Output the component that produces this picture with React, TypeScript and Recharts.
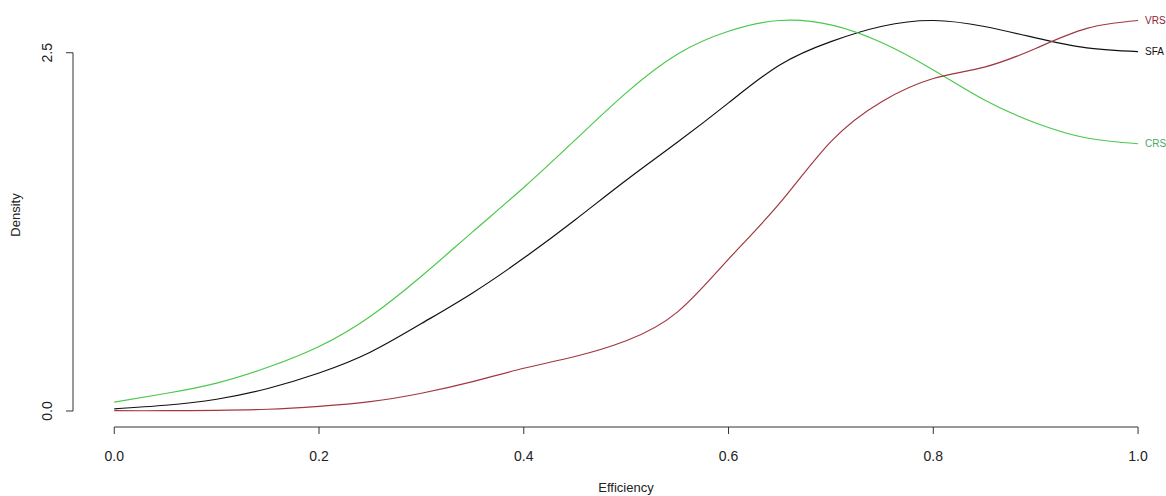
import { Label, Line, LineChart, ReferenceLine, XAxis, YAxis } from 'recharts'

const efficiency = [0, 0.05, 0.1, 0.15, 0.2, 0.25, 0.3, 0.35, 0.4, 0.45, 0.5, 0.55, 0.6, 0.65, 0.7, 0.75, 0.8, 0.85, 0.9, 0.95, 1]
const crs = [0.062, 0.122, 0.195, 0.305, 0.45, 0.66, 0.94, 1.25, 1.56, 1.89, 2.22, 2.49, 2.65, 2.725, 2.695, 2.57, 2.38, 2.17, 2.01, 1.905, 1.865]
const sfa = [0.015, 0.04, 0.082, 0.157, 0.265, 0.41, 0.61, 0.824, 1.067, 1.333, 1.61, 1.875, 2.15, 2.415, 2.578, 2.685, 2.725, 2.683, 2.604, 2.534, 2.508]
const vrs = [0.002, 0.002, 0.005, 0.012, 0.032, 0.065, 0.124, 0.205, 0.298, 0.38, 0.49, 0.69, 1.06, 1.45, 1.88, 2.16, 2.32, 2.4, 2.53, 2.67, 2.725]

const xTicks = [0, 0.2, 0.4, 0.6, 0.8, 1]
const yTicks = [0, 2.5]

const series = [
  { key: 'SFA', color: '#111111', labelColor: '#111111' },
  { key: 'CRS', color: '#4cc84c', labelColor: '#4aa860' },
  { key: 'VRS', color: '#a0383f', labelColor: '#8b2332' },
]

const data = efficiency.map((x, i) => ({ x, CRS: crs[i], SFA: sfa[i], VRS: vrs[i] }))

const font = '"Liberation Sans", Arial, sans-serif'

const endLabel = (name: string, color: string) => (props: any) => {
  if (props.index !== data.length - 1) return null
  return (
    <text
      x={props.x + 7}
      y={props.y}
      dy="0.35em"
      fontSize={10}
      fontFamily={font}
      fill={color}
    >
      {name}
    </text>
  )
}

const YTick = (props: any) => {
  const { x, y, payload } = props
  return (
    <text
      transform={`translate(${x},${y}) rotate(-90)`}
      textAnchor="middle"
      fontSize={14}
      fontFamily={font}
      fill="#222"
    >
      {payload.value.toFixed(1)}
    </text>
  )
}

export default function App() {
  return (
    <div style={{ position: 'absolute', left: 0, top: 0, background: '#fff' }}>
      <LineChart
        width={1166}
        height={496}
        data={data}
        margin={{ top: 5, right: 0, bottom: 0, left: 0 }}
      >
        <XAxis
          dataKey="x"
          type="number"
          domain={[-0.0403, 1.0273]}
          allowDataOverflow
          ticks={xTicks}
          tickFormatter={(v: number) => v.toFixed(1)}
          axisLine={false}
          tickLine={{ stroke: '#333' }}
          tickSize={7}
          tickMargin={17}
          height={69}
          tick={{ fontSize: 14, fontFamily: font, fill: '#222' }}
        >
          <Label
            content={() => (
              <text x={626} y={492} textAnchor="middle" fontSize={13} fontFamily={font} fill="#222">
                Efficiency
              </text>
            )}
          />
        </XAxis>
        <YAxis
          type="number"
          domain={[-0.1117, 2.8332]}
          allowDataOverflow
          ticks={yTicks}
          axisLine={false}
          tickLine={{ stroke: '#333' }}
          tickSize={7}
          tickMargin={14}
          width={73}
          tick={<YTick />}
        >
          <Label
            content={() => (
              <text
                transform="translate(20,215) rotate(-90)"
                textAnchor="middle"
                fontSize={13}
                fontFamily={font}
                fill="#222"
              >
                Density
              </text>
            )}
          />
        </YAxis>
        <ReferenceLine
          segment={[{ x: 0, y: -0.1117 }, { x: 1, y: -0.1117 }]}
          stroke="#333"
          ifOverflow="visible"
        />
        <ReferenceLine
          segment={[{ x: -0.0403, y: 0 }, { x: -0.0403, y: 2.5 }]}
          stroke="#333"
          ifOverflow="visible"
        />
        {series.map((s) => (
          <Line
            key={s.key}
            dataKey={s.key}
            type="natural"
            stroke={s.color}
            strokeWidth={1.2}
            dot={false}
            isAnimationActive={false}
            label={endLabel(s.key, s.labelColor)}
          />
        ))}
      </LineChart>
    </div>
  )
}
